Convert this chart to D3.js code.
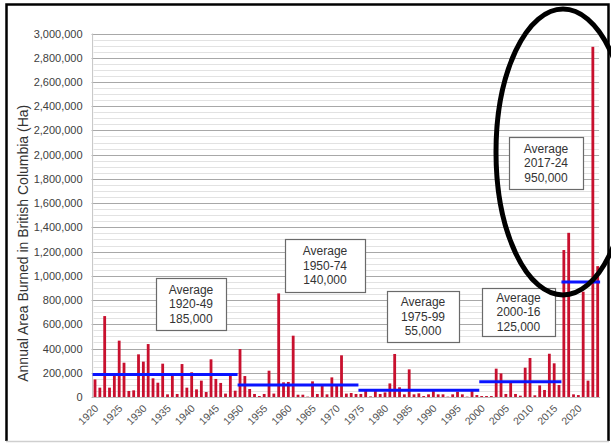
<!DOCTYPE html>
<html>
<head>
<meta charset="utf-8">
<script src="https://cdn.jsdelivr.net/npm/d3@7"></script>
<style>
  html, body { margin: 0; padding: 0; background: #fff; }
  svg { display: block; font-family: "Liberation Sans", Arial, sans-serif; }
</style>
</head>
<body>
<svg id="chart" width="611" height="443"></svg>
<script>
// ---------- DATA ----------
const years = d3.range(1920, 2025);
const areaBurned = [
  145000, 77000, 668000, 77000, 182000, 465000, 283000, 50000, 55000, 352000,   // 1920-29
  292000, 437000, 154000, 118000, 275000, 22000, 182000, 25000, 272000, 77000,   // 1930-39
  204000, 63000, 135000, 41000, 311000, 149000, 116000, 28000, 190000, 52000,    // 1940-49
  396000, 173000, 66000, 25000, 8000, 25000, 217000, 28000, 855000, 121000,      // 1950-59
  124000, 506000, 19000, 19000, 3000, 129000, 25000, 107000, 22000, 162000,      // 1960-69
  91000, 344000, 28000, 33000, 25000, 25000, 52000, 5000, 50000, 25000,          // 1970-79
  38000, 112000, 355000, 80000, 22000, 228000, 22000, 30000, 8000, 22000,        // 1980-89
  58000, 22000, 22000, 3000, 22000, 44000, 22000, 3000, 50000, 16000,            // 1990-99
  8000, 8000, 8000, 234000, 195000, 25000, 121000, 25000, 11000, 242000,         // 2000-09
  322000, 14000, 96000, 58000, 357000, 278000, 99000, 1213000, 1355000, 22000,   // 2010-19
  16000, 869000, 135000, 2890000, 1080000                                        // 2020-24
];
const periodStart = [1920, 1950, 1975, 2000, 2017];
const periodEnd   = [1949, 1974, 1999, 2016, 2024];
const periodLineValue = [185000, 100000, 55000, 125000, 950000]; // level of blue line as drawn
const periodLabels = [
  ["Average", "1920-49", "185,000"],
  ["Average", "1950-74", "140,000"],
  ["Average", "1975-99", "55,000"],
  ["Average", "2000-16", "125,000"],
  ["Average", "2017-24", "950,000"]
];
const yTicks = d3.range(0, 3000001, 200000);
const yMinorTicks = d3.range(0, 3000001, 50000);
const xTickYears = d3.range(1920, 2021, 5);
const yTitle = "Annual Area Burned in British Columbia (Ha)";

// ---------- LAYOUT ----------
const svg = d3.select("#chart");
const plot = { left: 92.6, right: 600.1, top: 33.5, bottom: 397 };
const boxes = [
  { x: 156, y: 278, w: 70, h: 52 },
  { x: 285, y: 239, w: 80, h: 53 },
  { x: 387, y: 291, w: 72, h: 51 },
  { x: 482, y: 288, w: 73, h: 48 },
  { x: 509, y: 137, w: 74, h: 52 }
];

const x = d3.scaleBand().domain(years).range([plot.left, plot.right]).paddingInner(0.42).paddingOuter(0.21);
const xStep = d3.scaleBand().domain(years).range([plot.left, plot.right]).padding(0);
const y = d3.scaleLinear().domain([0, 3000000]).range([plot.bottom, plot.top]);

svg.append("rect").attr("width", 611).attr("height", 443).attr("fill", "#fff");

// minor gridlines
svg.append("g").selectAll("line").data(yMinorTicks.filter(v => v % 200000 !== 0)).join("line")
  .attr("x1", plot.left + 1).attr("x2", plot.right - 1)
  .attr("y1", d => Math.round(y(d)) + 0.5).attr("y2", d => Math.round(y(d)) + 0.5)
  .attr("stroke", "#e2e2e2").attr("stroke-width", 1);

// major gridlines
svg.append("g").selectAll("line").data(yTicks).join("line")
  .attr("x1", plot.left - 1).attr("x2", plot.right - 1)
  .attr("y1", d => Math.round(y(d)) + 0.5).attr("y2", d => Math.round(y(d)) + 0.5)
  .attr("stroke", "#a8a8a8").attr("stroke-width", 1.2);

// vertical axis line
svg.append("line").attr("x1", plot.left).attr("x2", plot.left)
  .attr("y1", plot.top).attr("y2", plot.bottom).attr("stroke", "#c4c4c4");

// y tick labels via axis
const yAxis = svg.append("g").attr("transform", `translate(${plot.left - 10},0)`)
  .call(d3.axisLeft(y).tickValues(yTicks).tickSize(0).tickPadding(0).tickFormat(d3.format(",")));
yAxis.select(".domain").remove();
yAxis.selectAll("text").attr("font-size", 11).attr("fill", "#404040")
  .attr("font-family", "Liberation Sans, Arial, sans-serif");

// x axis line
svg.append("line").attr("x1", plot.left).attr("x2", plot.right)
  .attr("y1", plot.bottom + 0.5).attr("y2", plot.bottom + 0.5).attr("stroke", "#bdbdbd");

// bars
svg.append("g").selectAll("rect").data(years).join("rect")
  .attr("x", d => x(d))
  .attr("width", x.bandwidth())
  .attr("y", (d, i) => y(areaBurned[i]))
  .attr("height", (d, i) => plot.bottom - y(areaBurned[i]))
  .attr("fill", "#c8102e");

// x tick labels
svg.append("g").selectAll("text").data(xTickYears).join("text")
  .attr("transform", d => `translate(${xStep(d) + xStep.bandwidth() / 2 + 4},${plot.bottom + 12}) rotate(-45)`)
  .attr("text-anchor", "end")
  .attr("font-size", 10.5).attr("fill", "#555")
  .text(d => d);

// average lines
svg.append("g").selectAll("line").data(periodStart).join("line")
  .attr("x1", (d, i) => xStep(d))
  .attr("x2", (d, i) => xStep(periodEnd[i]) + xStep.bandwidth())
  .attr("y1", (d, i) => y(periodLineValue[i]))
  .attr("y2", (d, i) => y(periodLineValue[i]))
  .attr("stroke", "#0a14ff").attr("stroke-width", 3);

// annotation boxes
const ann = svg.append("g").selectAll("g").data(periodLabels).join("g");
ann.append("rect")
  .attr("x", (d, i) => boxes[i].x + 0.5).attr("y", (d, i) => boxes[i].y + 0.5)
  .attr("width", (d, i) => boxes[i].w).attr("height", (d, i) => boxes[i].h)
  .attr("fill", "#fff").attr("stroke", "#6a6a6a").attr("stroke-width", 1.2);
ann.each(function (lines, i) {
  const b = boxes[i];
  const top = b.y + b.h / 2 - 14.5 + 4;
  d3.select(this).selectAll("text").data(lines).join("text")
    .attr("x", b.x + b.w / 2)
    .attr("y", (t, j) => top + j * 14.5)
    .attr("text-anchor", "middle")
    .attr("font-size", 12).attr("fill", "#333")
    .text(t => t);
});

// y axis title
svg.append("text")
  .attr("transform", `translate(28,${(plot.top + plot.bottom) / 2 + 28}) rotate(-90)`)
  .attr("text-anchor", "middle")
  .attr("font-size", 14).attr("fill", "#333")
  .text(yTitle);

// highlight ellipse
svg.append("ellipse")
  .attr("cx", 563).attr("cy", 152).attr("rx", 67).attr("ry", 143)
  .attr("fill", "none").attr("stroke", "#000").attr("stroke-width", 5);

// frame
svg.append("path").attr("d", "M6.5,441 V4.5 H608.5 V441")
  .attr("fill", "none").attr("stroke", "#000").attr("stroke-width", 2.5);
svg.append("line").attr("x1", 6).attr("x2", 609).attr("y1", 441.5).attr("y2", 441.5)
  .attr("stroke", "#cfcfcf").attr("stroke-width", 1.5);
</script>
</body>
</html>
